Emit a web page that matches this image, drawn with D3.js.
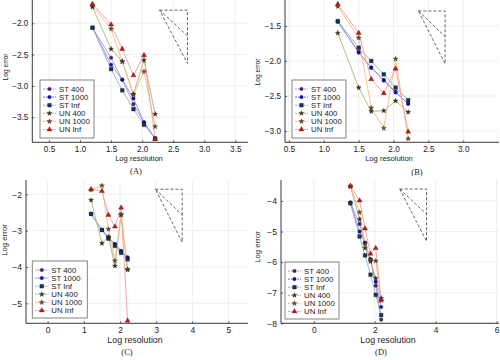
<!DOCTYPE html>
<html><head><meta charset="utf-8">
<script src="https://cdn.jsdelivr.net/npm/d3@7"></script>
<style>
body{margin:0;background:#fff;}
svg{display:block;font-family:"Liberation Sans",Arial,sans-serif;}
</style></head>
<body><svg id="c" width="500" height="360"></svg>
<script>
const resolution = [1.2, 1.5, 1.68, 1.86, 2.03, 2.21];
const seriesNames = ["ST 400", "ST 1000", "ST Inf", "UN 400", "UN 1000", "UN Inf"];

// Log error per series (rows follow seriesNames)
const errorA = [
  [-2.07, -2.55, -2.90, -3.29, -3.58, -3.84],
  [-2.07, -2.66, -2.90, -3.20, -3.58, -3.84],
  [-2.07, -2.73, -3.07, -3.37, -3.62, -3.84],
  [-1.74, -2.41, -2.61, -3.13, -2.59, -3.45],
  [-1.72, -2.09, -2.61, -3.14, -2.77, -3.65],
  [-1.69, -2.02, -2.41, -2.83, -2.51, -3.85]
];
const errorB = [
  [-1.44, -1.87, -2.10, -2.27, -2.44, -2.61],
  [-1.44, -1.88, -2.09, -2.28, -2.45, -2.61],
  [-1.43, -1.81, -2.00, -2.19, -2.38, -2.56],
  [-1.60, -2.38, -2.72, -2.71, -2.57, -2.73],
  [-1.22, -1.67, -2.67, -2.96, -1.97, -3.11],
  [-1.19, -1.60, -2.26, -2.46, -2.11, -3.01]
];
const errorC = [
  [-2.54, -2.98, -3.19, -3.37, -3.56, -3.73],
  [-2.54, -2.98, -3.18, -3.37, -3.56, -3.75],
  [-2.54, -2.98, -3.22, -3.42, -3.61, -3.79],
  [-2.16, -3.35, -3.17, -3.97, -2.57, -4.08],
  [-1.88, -1.76, -2.96, -3.83, -2.55, -4.06],
  [-1.86, -1.91, -2.57, -2.89, -2.37, -5.48]
];
const errorD = [
  [-4.05, -4.75, -5.36, -5.92, -6.77, -7.88],
  [-4.05, -5.00, -5.38, -5.90, -6.64, -7.47],
  [-4.08, -5.16, -5.78, -6.41, -7.07, -7.73],
  [-3.53, -4.60, -5.54, -5.98, -6.53, -7.18],
  [-3.51, -4.37, -5.40, -5.92, -5.96, -7.26],
  [-3.51, -3.99, -4.90, -5.73, -5.54, -7.23]
];

// Tick labels
const xTicksA = [0.5, 1.0, 1.5, 2.0, 2.5, 3.0, 3.5];
const yTicksA = [-2.0, -2.5, -3.0, -3.5];
const xTicksB = [0.5, 1.0, 1.5, 2.0, 2.5, 3.0];
const yTicksB = [-1.5, -2.0, -2.5, -3.0];
const xTicksC = [0, 1, 2, 3, 4, 5];
const yTicksC = [-2, -3, -4, -5];
const xTicksD = [0, 2, 4, 6];
const yTicksD = [-4, -5, -6, -7, -8];

// Slope reference triangles: [x0, x1, yTop, ySlope1, ySlope2]
const triangleA = [2.28, 2.73, -1.79, -2.20, -2.64];
const triangleB = [2.357, 2.74, -1.286, -1.652, -2.04];
const triangleC = [2.98, 3.72, -1.86, -2.57, -3.32];
const triangleD = [2.82, 3.70, -3.61, -4.43, -5.32];

const captions = ["(A)", "(B)", "(C)", "(D)"];

// ---- styles ----
const lineColors = ["#b792dc", "#8c8cf2", "#8fb3cc", "#b3b37e", "#f7bd80", "#f49c9c"];
const markColors = ["#5e1c6e", "#1010b8", "#163552", "#2f3312", "#7a4a22", "#d11414"];
const markTypes = ["circle", "circle", "square", "star", "star", "triangle"];

const svg = d3.select("#c");
const fmt1 = d => d3.format(".1f")(d).replace("-", "\u2212");
const fmt0 = d => d3.format("d")(d).replace("-", "\u2212");

function symbolFor(t) {
  if (t === "circle") return d3.symbol(d3.symbolCircle, 10)();
  if (t === "square") return d3.symbol(d3.symbolSquare, 14)();
  if (t === "star") return d3.symbol(d3.symbolStar, 8)();
  return d3.symbol(d3.symbolTriangle, 11)();
}

function panel(cfg) {
  const g = svg.append("g");
  const x = d3.scaleLinear().domain(cfg.xd).range(cfg.xr);
  const y = d3.scaleLinear().domain(cfg.yd).range(cfg.yr);
  const [l, r] = cfg.xr, [b, t] = cfg.yr;
  // grid
  g.selectAll(".gx").data(cfg.xt).join("line")
    .attr("x1", d => x(d)).attr("x2", d => x(d)).attr("y1", b).attr("y2", t)
    .attr("stroke", "#e8e8e8").attr("stroke-width", 0.7);
  g.selectAll(".gy").data(cfg.yt).join("line")
    .attr("y1", d => y(d)).attr("y2", d => y(d)).attr("x1", l).attr("x2", r)
    .attr("stroke", "#e8e8e8").attr("stroke-width", 0.7);
  // axes
  const ax = g.append("g").attr("transform", `translate(0,${b})`)
    .call(d3.axisBottom(x).tickValues(cfg.xt).tickFormat(cfg.fx).tickSize(-2).tickPadding(4));
  const ay = g.append("g").attr("transform", `translate(${l},0)`)
    .call(d3.axisLeft(y).tickValues(cfg.yt).tickFormat(cfg.fy).tickSize(-2).tickPadding(4));
  [ax, ay].forEach(a => {
    a.select(".domain").attr("stroke", "#222").attr("stroke-width", 0.9);
    a.selectAll(".tick line").attr("stroke", "#222").attr("stroke-width", 0.7);
    a.selectAll("text").attr("font-size", cfg.tfs).attr("fill", "#222")
      .attr("font-family", "Liberation Sans, Arial, sans-serif");
  });
  ax.select(".domain").attr("d", `M${l},0H${r}`);
  ay.select(".domain").attr("d", `M0,${b}V${t}`);
  // triangle
  const tr = cfg.tri;
  const tpath = d3.line()([[x(tr[0]), y(tr[2])], [x(tr[1]), y(tr[2])], [x(tr[1]), y(tr[4])], [x(tr[0]), y(tr[2])]]);
  g.append("path").attr("d", tpath).attr("fill", "none").attr("stroke", "#555")
    .attr("stroke-width", 0.9).attr("stroke-dasharray", "3,2");
  g.append("path").attr("d", d3.line()([[x(tr[0]), y(tr[2])], [x(tr[1]), y(tr[3])]]))
    .attr("fill", "none").attr("stroke", "#555").attr("stroke-width", 0.9).attr("stroke-dasharray", "3,2");
  // series
  const line = d3.line().x((d, i) => x(resolution[i])).y(d => y(d));
  cfg.data.forEach((s, k) => {
    g.append("path").attr("d", line(s)).attr("fill", "none")
      .attr("stroke", lineColors[k]).attr("stroke-width", 1).attr("stroke-opacity", 0.9);
  });
  cfg.data.forEach((s, k) => {
    g.selectAll(null).data(s).join("path")
      .attr("transform", (d, i) => `translate(${x(resolution[i])},${y(d)})`)
      .attr("d", symbolFor(markTypes[k]))
      .attr("fill", markColors[k]).attr("stroke", "#111").attr("stroke-width", 0.3);
  });
  // labels
  g.append("text").attr("x", cfg.xl[0]).attr("y", cfg.xl[1]).attr("text-anchor", "middle")
    .attr("font-size", cfg.lfs).attr("fill", "#222").text("Log resolution");
  g.append("text").attr("transform", `translate(${cfg.yl[0]},${cfg.yl[1]}) rotate(-90)`)
    .attr("text-anchor", "middle").attr("dominant-baseline", "central")
    .attr("font-size", cfg.lfs - 1).attr("fill", "#222").text("Log error");
  g.append("text").attr("x", cfg.cap[0]).attr("y", cfg.cap[1]).attr("text-anchor", "middle")
    .attr("font-family", "Liberation Serif, Times New Roman, serif").attr("font-size", 8.5)
    .attr("fill", "#222").text(cfg.capText);
  // legend
  const [lx, ly, lw, lh] = cfg.leg;
  const lg = g.append("g").attr("transform", `translate(${lx},${ly})`);
  lg.append("rect").attr("width", lw).attr("height", lh).attr("fill", "#fff")
    .attr("stroke", "#777").attr("stroke-width", 0.9);
  seriesNames.forEach((n, k) => {
    const yy = 9 + k * 8.1;
    lg.append("line").attr("x1", 3).attr("x2", 16).attr("y1", yy).attr("y2", yy)
      .attr("stroke", lineColors[k]).attr("stroke-width", 1.1).attr("stroke-dasharray", "2,1");
    lg.append("path").attr("transform", `translate(9.5,${yy})`).attr("d", symbolFor(markTypes[k]))
      .attr("fill", markColors[k]).attr("stroke", "#111").attr("stroke-width", 0.3);
    lg.append("text").attr("x", 19).attr("y", yy).attr("dominant-baseline", "central")
      .attr("font-size", 7.8).attr("fill", "#222").text(n);
  });
}

panel({data: errorA, xd: [0.231, 3.705], xr: [32.3, 248], yd: [-3.899, -1.628], yr: [142.3, 0],
  xt: xTicksA, yt: yTicksA, fx: fmt1, fy: fmt1, tri: triangleA, tfs: 8.2, lfs: 7.6,
  xl: [139, 161], yl: [5, 67], cap: [136, 174], capText: captions[0], leg: [40, 80, 54, 58]});
panel({data: errorB, xd: [0.443, 3.513], xr: [285, 499], yd: [-3.161, -1.129], yr: [142.3, 0],
  xt: xTicksB, yt: yTicksB, fx: fmt1, fy: fmt1, tri: triangleB, tfs: 8.2, lfs: 7.6,
  xl: [389, 161], yl: [257, 72], cap: [417, 175], capText: captions[1], leg: [292, 80, 54, 58]});
panel({data: errorC, xd: [-0.6, 5.54], xr: [26, 248], yd: [-5.55, -1.606], yr: [323.3, 180],
  xt: xTicksC, yt: yTicksC, fx: fmt0, fy: fmt0, tri: triangleC, tfs: 8.5, lfs: 8.8,
  xl: [135, 343], yl: [4, 240], cap: [127, 355], capText: captions[2], leg: [32.3, 261, 55, 57]});
panel({data: errorD, xd: [-1.08, 6.08], xr: [281, 499], yd: [-8.0, -3.315], yr: [323.3, 180],
  xt: xTicksD, yt: yTicksD, fx: fmt0, fy: fmt0, tri: triangleD, tfs: 8.5, lfs: 8.8,
  xl: [388, 343], yl: [257, 247], cap: [381, 355], capText: captions[3], leg: [285, 262, 54, 57]});
</script></body></html>
